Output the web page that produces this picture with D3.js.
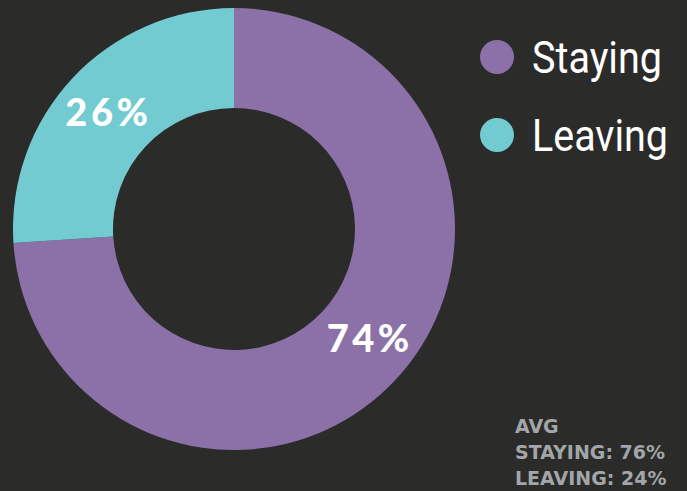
<!DOCTYPE html>
<html>
<head>
<meta charset="utf-8">
<script src="https://cdn.jsdelivr.net/npm/d3@7"></script>
<style>
  html, body { margin: 0; padding: 0; background: #2b2b29; }
  svg { display: block; }
</style>
</head>
<body>
<svg></svg>
<script>
// chart data
const categories = ["Staying", "Leaving"];
const shares = [74, 26];
const avgLabels = ["AVG", "STAYING: 76%", "LEAVING: 24%"];

const width = 687;
const height = 491;
const cx = 234, cy = 229;
const outerR = 221, innerR = 121;

const color = d3.scaleOrdinal()
  .domain(categories)
  .range(["#8b71a8", "#72cbd0"]);

const svg = d3.select("svg")
  .attr("width", width)
  .attr("height", height);

svg.append("rect")
  .attr("width", width)
  .attr("height", height)
  .attr("fill", "#2b2b29");

const pie = d3.pie()
  .sort(null)
  .value(d => d[1]);
const data_ready = pie(categories.map((c, i) => [c, shares[i]]));

const arc = d3.arc()
  .innerRadius(innerR)
  .outerRadius(outerR);

const g = svg.append("g")
  .attr("transform", `translate(${cx},${cy})`);

g.selectAll("path")
  .data(data_ready)
  .join("path")
  .attr("d", arc)
  .attr("fill", d => color(d.data[0]));

// percent labels on the ring
g.selectAll("text.pct")
  .data(data_ready)
  .join("text")
  .attr("class", "pct")
  .text(d => d.data[1] + "%")
  .attr("transform", d => {
    const p = arc.centroid(d);
    // nudge the big label a little outwards, like the original
    if (d.data[0] === "Staying") { p[0] += 11; p[1] -= 8; }
    else { p[0] -= 1; }
    return `translate(${p})`;
  })
  .attr("text-anchor", "middle")
  .attr("dy", "0.36em")
  .attr("fill", "#ffffff")
  .style("font-family", "Lato, sans-serif")
  .style("font-weight", 900)
  .style("font-size", "38px")
  .style("letter-spacing", "3.5px");

// legend
const legend = svg.append("g")
  .selectAll("g")
  .data(categories)
  .join("g")
  .attr("transform", (d, i) => `translate(497,${57 + i * 78})`);

legend.append("circle")
  .attr("r", 17)
  .attr("fill", d => color(d));

legend.append("text")
  .text(d => d)
  .attr("x", 35)
  .attr("dy", "0.36em")
  .attr("fill", "#ffffff")
  .style("font-family", "Roboto, sans-serif")
  .style("font-size", "44px")
  .attr("textLength", d => d === "Staying" ? 130 : 136)
  .attr("lengthAdjust", "spacingAndGlyphs");

// average note
svg.append("g")
  .selectAll("text")
  .data(avgLabels)
  .join("text")
  .text(d => d)
  .attr("x", 515)
  .attr("y", (d, i) => 433 + i * 26)
  .attr("fill", "#a2a6a8")
  .style("font-family", "'DejaVu Sans', sans-serif")
  .style("font-weight", 700)
  .style("font-size", "19px");
</script>
</body>
</html>
